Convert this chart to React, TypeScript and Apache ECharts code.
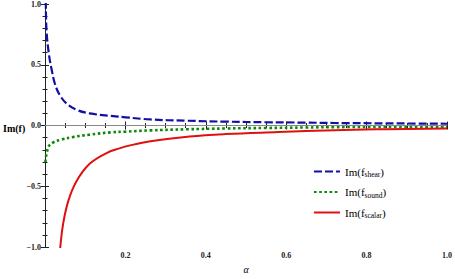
import React, { useEffect, useRef } from "react";
import * as echarts from "echarts";

const shearAlpha = [0.001, 0.002, 0.004, 0.01, 0.016, 0.025, 0.037, 0.054, 0.078, 0.111, 0.163, 0.2, 0.262, 0.35, 0.45, 0.55, 0.65, 0.72, 0.85, 1.0];
const shearIm = [1.3, 1.0, 0.77, 0.58, 0.47, 0.34, 0.25, 0.18, 0.13, 0.1, 0.08, 0.068, 0.05, 0.04, 0.032, 0.027, 0.024, 0.021, 0.018, 0.015];

const soundAlpha = [0.001, 0.008, 0.02, 0.041, 0.07, 0.111, 0.163, 0.2, 0.262, 0.35, 0.45, 0.55, 0.65, 0.72, 0.85, 1.0];
const soundIm = [-0.3, -0.18, -0.14, -0.115, -0.094, -0.075, -0.056, -0.05, -0.04, -0.031, -0.024, -0.02, -0.016, -0.013, -0.011, -0.009];

const scalarAlpha = [0.036, 0.038, 0.045, 0.058, 0.078, 0.111, 0.152, 0.185, 0.212, 0.262, 0.36, 0.45, 0.58, 0.72, 0.85, 1.0];
const scalarIm = [-1.08, -1.0, -0.81, -0.62, -0.46, -0.315, -0.228, -0.188, -0.163, -0.13, -0.09, -0.07, -0.054, -0.038, -0.03, -0.024];

const seriesNames = ["shear", "sound", "scalar"];

const zip = (a: number[], b: number[]) => a.map((x, i) => [x, b[i]]);

const serif = "'Liberation Serif', 'Times New Roman', serif";
const axisColor = "#222";

export default function App() {
  const ref = useRef<HTMLDivElement>(null);
  useEffect(() => {
    const chart = echarts.init(ref.current!, null, { renderer: "svg" });
    const fmt = (v: number) => v.toFixed(1).replace("-", "\u2212");
    const baseX = {
      type: "value" as const,
      min: 0,
      max: 1,
      interval: 0.2,
      axisLine: { show: true, lineStyle: { color: axisColor, width: 1 } },
      axisTick: { show: true, inside: true, length: 4, lineStyle: { color: axisColor } },
      minorTick: { show: true, splitNumber: 4, length: 2.5, lineStyle: { color: axisColor } },
      splitLine: { show: false },
    };
    const baseY = {
      type: "value" as const,
      min: -1,
      max: 1,
      interval: 0.5,
      axisLine: { show: true, lineStyle: { color: axisColor, width: 1 } },
      axisTick: { show: true, inside: true, length: 4, lineStyle: { color: axisColor } },
      minorTick: { show: true, splitNumber: 5, length: 2.5, lineStyle: { color: axisColor } },
      splitLine: { show: false },
    };
    const lineSeries = (name: string, xs: number[], ys: number[], color: string, width: number, type: any) => ({
      name,
      type: "line",
      data: zip(xs, ys),
      smooth: 0.4,
      showSymbol: false,
      symbol: "none",
      lineStyle: { color, width, type },
      itemStyle: { color },
      z: 3,
    });
    chart.setOption({
      animation: false,
      backgroundColor: "#fff",
      grid: { left: 45, right: 5, top: 4, bottom: 25 },
      xAxis: [
        {
          ...baseX,
          position: "bottom",
          name: "\u03b1",
          nameLocation: "middle",
          nameGap: 11,
          nameTextStyle: { fontFamily: serif, fontStyle: "italic", fontSize: 10, color: "#000" },
          axisLabel: {
            show: true,
            margin: 4,
            fontFamily: serif,
            fontSize: 8,
            fontWeight: "bold",
            color: "#222",
            formatter: (v: number) => (v === 0 ? "" : v.toFixed(1)),
          },
        },
        { ...baseX, position: "top", axisLabel: { show: false } },
      ],
      yAxis: [
        {
          ...baseY,
          position: "left",
          axisLabel: {
            show: true,
            margin: 4,
            fontFamily: serif,
            fontSize: 8,
            fontWeight: "bold",
            color: "#222",
            formatter: fmt,
          },
        },
        { ...baseY, position: "right", axisLabel: { show: false } },
      ],
      legend: {
        orient: "vertical",
        left: 308,
        top: 161,
        itemWidth: 26,
        itemHeight: 12,
        itemGap: 8,
        itemStyle: { opacity: 0, borderWidth: 0 },
        textStyle: {
          fontFamily: serif,
          fontSize: 11,
          color: "#000",
          rich: {
            m: { fontFamily: serif, fontSize: 11, color: "#000" },
            s: { fontFamily: serif, fontSize: 7.5, color: "#000", padding: [6, 0, 0, 0] },
          },
        },
        formatter: (name: string) => `{m|Im(f}{s|${name}}{m|)}`,
        data: seriesNames,
      },
      graphic: [
        {
          type: "text",
          left: 3,
          top: 123,
          style: { text: "Im(f)", font: `bold 10px ${serif}`, fill: "#000" },
        },
      ],
      series: [
        {
          ...lineSeries("shear", shearAlpha, shearIm, "#1010a8", 2.2, [8, 3]),
          markLine: {
            silent: true,
            symbol: "none",
            label: { show: false },
            lineStyle: { color: "#888", width: 1, type: "solid" },
            data: [{ yAxis: 0 }],
          },
        },
        lineSeries("sound", soundAlpha, soundIm, "#0a8a0a", 2.6, [2.6, 2.6]),
        lineSeries("scalar", scalarAlpha, scalarIm, "#e01010", 2, "solid"),
      ],
    });
    return () => chart.dispose();
  }, []);
  return (
    <div
      ref={ref}
      style={{ position: "fixed", left: 0, top: 0, width: 455, height: 279, background: "#fff" }}
    />
  );
}
